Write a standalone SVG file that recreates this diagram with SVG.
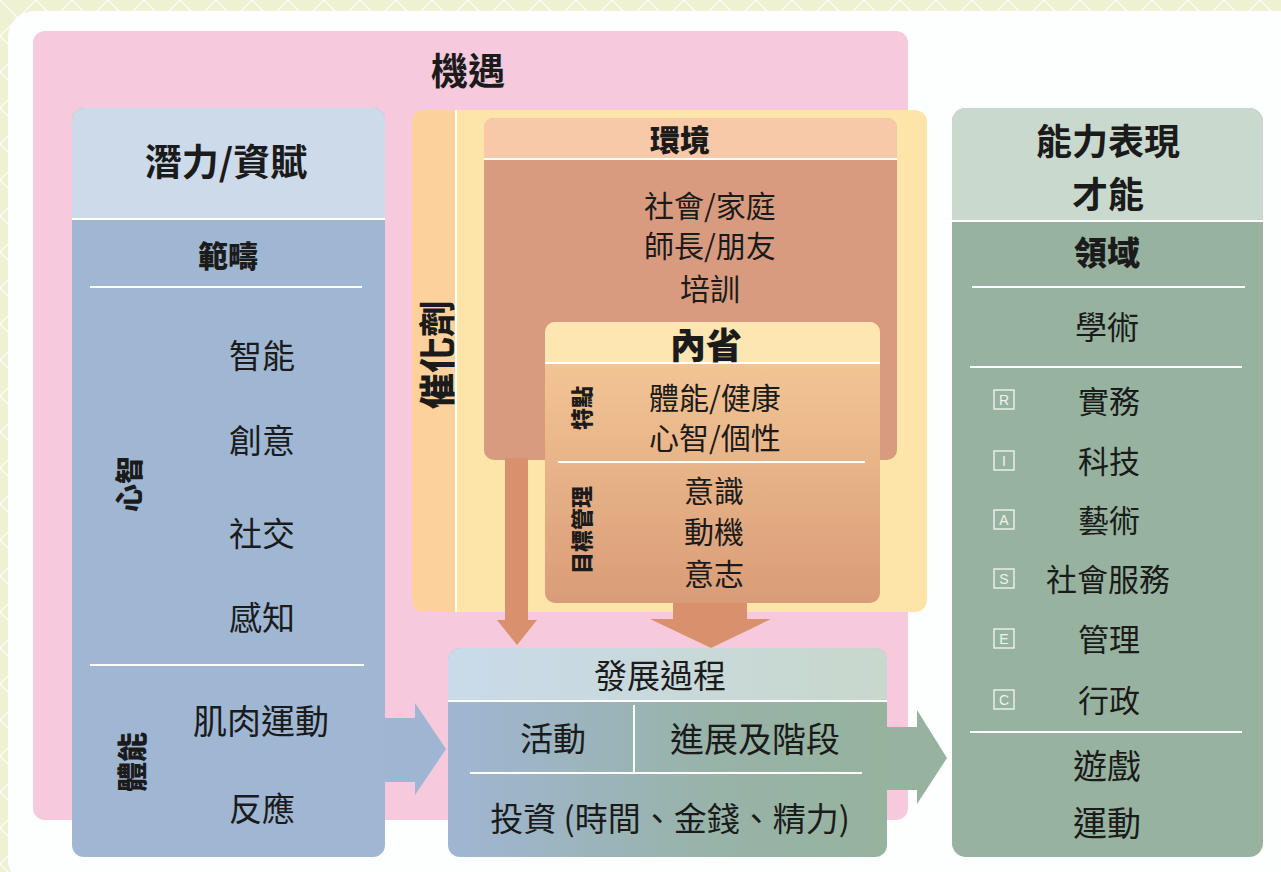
<svg xmlns="http://www.w3.org/2000/svg" width="1281" height="872" viewBox="0 0 1281 872">
<defs>
<pattern id="bgpat" width="36" height="36" patternUnits="userSpaceOnUse">
<rect width="36" height="36" fill="#eef1d2"/>
<path d="M0 36 L36 0 M-9 9 L9 -9 M27 45 L45 27 M0 0 L36 36 M-9 27 L9 45 M27 -9 L45 9" stroke="#ffffff" stroke-width="1.4" stroke-opacity="0.8"/>
</pattern>
<linearGradient id="introGrad" x1="0" y1="0" x2="0" y2="1">
<stop offset="0" stop-color="#f7cc98"/>
<stop offset="1" stop-color="#d99c78"/>
</linearGradient>
<linearGradient id="devHead" x1="0" y1="0" x2="1" y2="0">
<stop offset="0" stop-color="#c9daea"/>
<stop offset="1" stop-color="#c8d8cc"/>
</linearGradient>
<linearGradient id="devBody" x1="0" y1="0" x2="1" y2="0">
<stop offset="0" stop-color="#9fb6d3"/>
<stop offset="0.6" stop-color="#98b3a8"/>
<stop offset="1" stop-color="#96b39e"/>
</linearGradient>
<style>
text{font-family:"Noto Sans CJK TC","Noto Sans CJK SC",sans-serif;fill:#1b1b1b;text-anchor:middle;dominant-baseline:central}
.h{font-weight:700}
.hv{font-weight:900}
.r{font-weight:400}
.sep{stroke:#ffffff;stroke-width:2;fill:none}
.lb{fill:none;stroke:#eef3ee;stroke-width:1.4}
.lt{font-family:"Liberation Sans",Arial,sans-serif;font-size:14px;fill:#eef3ee}
</style>
</defs>
<rect x="0" y="0" width="1281" height="872" fill="url(#bgpat)"/>
<rect x="8" y="11" width="1300" height="875" rx="26" fill="#fdfefe"/>

<g id="opportunity">
<rect x="33" y="31" width="875" height="789" rx="12" fill="#f6c9dc"/>
<text class="h" x="468" y="69" font-size="37">機遇</text>
</g>

<g id="potential">
<rect x="72" y="108" width="313" height="749" rx="12" fill="#9fb7d3"/>
<path d="M72 219 V120 a12 12 0 0 1 12 -12 H373 a12 12 0 0 1 12 12 V219 Z" fill="#ccdaea"/>
<line class="sep" x1="72" y1="219" x2="385" y2="219"/>
<text class="h" x="226" y="160" font-size="37">潛力/資賦</text>
<text class="hv" x="228" y="254" font-size="30">範疇</text>
<line class="sep" x1="90" y1="287" x2="362" y2="287"/>
<text class="r" x="262" y="354" font-size="33">智能</text>
<text class="r" x="262" y="439" font-size="33">創意</text>
<text class="r" x="262" y="532" font-size="33">社交</text>
<text class="r" x="262" y="616" font-size="33">感知</text>
<line class="sep" x1="90" y1="665" x2="364" y2="665"/>
<text class="r" x="261" y="719" font-size="34">肌肉運動</text>
<text class="r" x="262" y="807" font-size="33">反應</text>
<text class="hv" font-size="28" transform="translate(128 484) rotate(-90)">心智</text>
<text class="hv" font-size="30" transform="translate(130 762) rotate(-90)">體能</text>
</g>

<g id="catalyst">
<rect x="412" y="110" width="515" height="502" rx="12" fill="#fde4a8"/>
<path d="M456 110 H424 a12 12 0 0 0 -12 12 V600 a12 12 0 0 0 12 12 H456 Z" fill="#fcd19c"/>
<line class="sep" x1="456" y1="110" x2="456" y2="612"/>
<text class="hv" font-size="36" transform="translate(435 355) rotate(-90)">催化劑</text>
</g>

<g id="environment">
<rect x="484" y="118" width="413" height="342" rx="10" fill="#d99b7f"/>
<path d="M484 159 V128 a10 10 0 0 1 10 -10 H887 a10 10 0 0 1 10 10 V159 Z" fill="#f7c9a9"/>
<line class="sep" x1="484" y1="159" x2="897" y2="159"/>
<text class="hv" x="680" y="138" font-size="30">環境</text>
<text class="r" x="710" y="204" font-size="30">社會/家庭</text>
<text class="r" x="710" y="244" font-size="30">師長/朋友</text>
<text class="r" x="710" y="287" font-size="30">培訓</text>
</g>

<g id="connectors">
<path d="M505 458 H528 V620 H537 L517 645 L497 620 H505 Z" fill="#d8916c"/>
<path d="M673 600 H747 V619 H771 L711 648 L650 619 H673 Z" fill="#d8916c"/>
<path d="M385 718 H415 V703 L446 749 L415 795 V782 H385 Z" fill="#9eb6d2"/>
<path d="M887 727 H917 V710 L947 758 L917 804 V790 H887 Z" fill="#97b39f"/>
</g>

<g id="introspection">
<rect x="545" y="322" width="335" height="281" rx="10" fill="url(#introGrad)"/>
<path d="M545 363 V332 a10 10 0 0 1 10 -10 H870 a10 10 0 0 1 10 10 V363 Z" fill="#fde6b1"/>
<line class="sep" x1="545" y1="363" x2="880" y2="363"/>
<text class="hv" x="706" y="343" font-size="36">內省</text>
<text class="r" x="715" y="396" font-size="30">體能/健康</text>
<text class="r" x="715" y="436" font-size="30">心智/個性</text>
<line class="sep" x1="558" y1="462" x2="865" y2="462"/>
<text class="r" x="714" y="489" font-size="30">意識</text>
<text class="r" x="714" y="530" font-size="30">動機</text>
<text class="r" x="714" y="572" font-size="30">意志</text>
<text class="hv" font-size="22" transform="translate(580 408) rotate(-90)">特點</text>
<text class="hv" font-size="22" transform="translate(580 530) rotate(-90)">目標管理</text>
</g>

<g id="development">
<rect x="448" y="648" width="439" height="209" rx="12" fill="url(#devBody)"/>
<path d="M448 701 V660 a12 12 0 0 1 12 -12 H875 a12 12 0 0 1 12 12 V701 Z" fill="url(#devHead)"/>
<line class="sep" x1="448" y1="701" x2="887" y2="701"/>
<text class="r" x="660" y="674" font-size="33">發展過程</text>
<line class="sep" x1="634" y1="705" x2="634" y2="772"/>
<text class="r" x="553" y="737" font-size="33">活動</text>
<text class="r" x="755" y="737" font-size="34">進展及階段</text>
<line class="sep" x1="470" y1="773" x2="862" y2="773"/>
<text class="r" x="670" y="817" font-size="33">投資 (時間、金錢、精力)</text>
</g>

<g id="performance">
<rect x="952" y="108" width="311" height="749" rx="14" fill="#97b39f"/>
<path d="M952 221 V122 a14 14 0 0 1 14 -14 H1249 a14 14 0 0 1 14 14 V221 Z" fill="#c9d9cd"/>
<line class="sep" x1="952" y1="221" x2="1263" y2="221"/>
<text class="h" x="1108" y="139" font-size="36">能力表現</text>
<text class="h" x="1108" y="192" font-size="36">才能</text>
<text class="hv" x="1107" y="251" font-size="33">領域</text>
<line class="sep" x1="972" y1="287" x2="1245" y2="287"/>
<text class="r" x="1107" y="325" font-size="32">學術</text>
<line class="sep" x1="970" y1="367" x2="1242" y2="367"/>
<rect class="lb" x="994" y="390" width="20" height="19"/>
<text class="lt" x="1004" y="400">R</text>
<text class="r" x="1109" y="399" font-size="31">實務</text>
<rect class="lb" x="994" y="451" width="20" height="19"/>
<text class="lt" x="1004" y="461">I</text>
<text class="r" x="1109" y="459" font-size="31">科技</text>
<rect class="lb" x="994" y="510" width="20" height="19"/>
<text class="lt" x="1004" y="520">A</text>
<text class="r" x="1109" y="518" font-size="31">藝術</text>
<rect class="lb" x="994" y="569" width="20" height="19"/>
<text class="lt" x="1004" y="579">S</text>
<text class="r" x="1108" y="577" font-size="31">社會服務</text>
<rect class="lb" x="994" y="629" width="20" height="19"/>
<text class="lt" x="1004" y="639">E</text>
<text class="r" x="1109" y="637" font-size="31">管理</text>
<rect class="lb" x="994" y="690" width="20" height="19"/>
<text class="lt" x="1004" y="700">C</text>
<text class="r" x="1109" y="698" font-size="31">行政</text>
<line class="sep" x1="970" y1="732" x2="1242" y2="732"/>
<text class="r" x="1107" y="764" font-size="34">遊戲</text>
<text class="r" x="1107" y="821" font-size="34">運動</text>
</g>
</svg>
